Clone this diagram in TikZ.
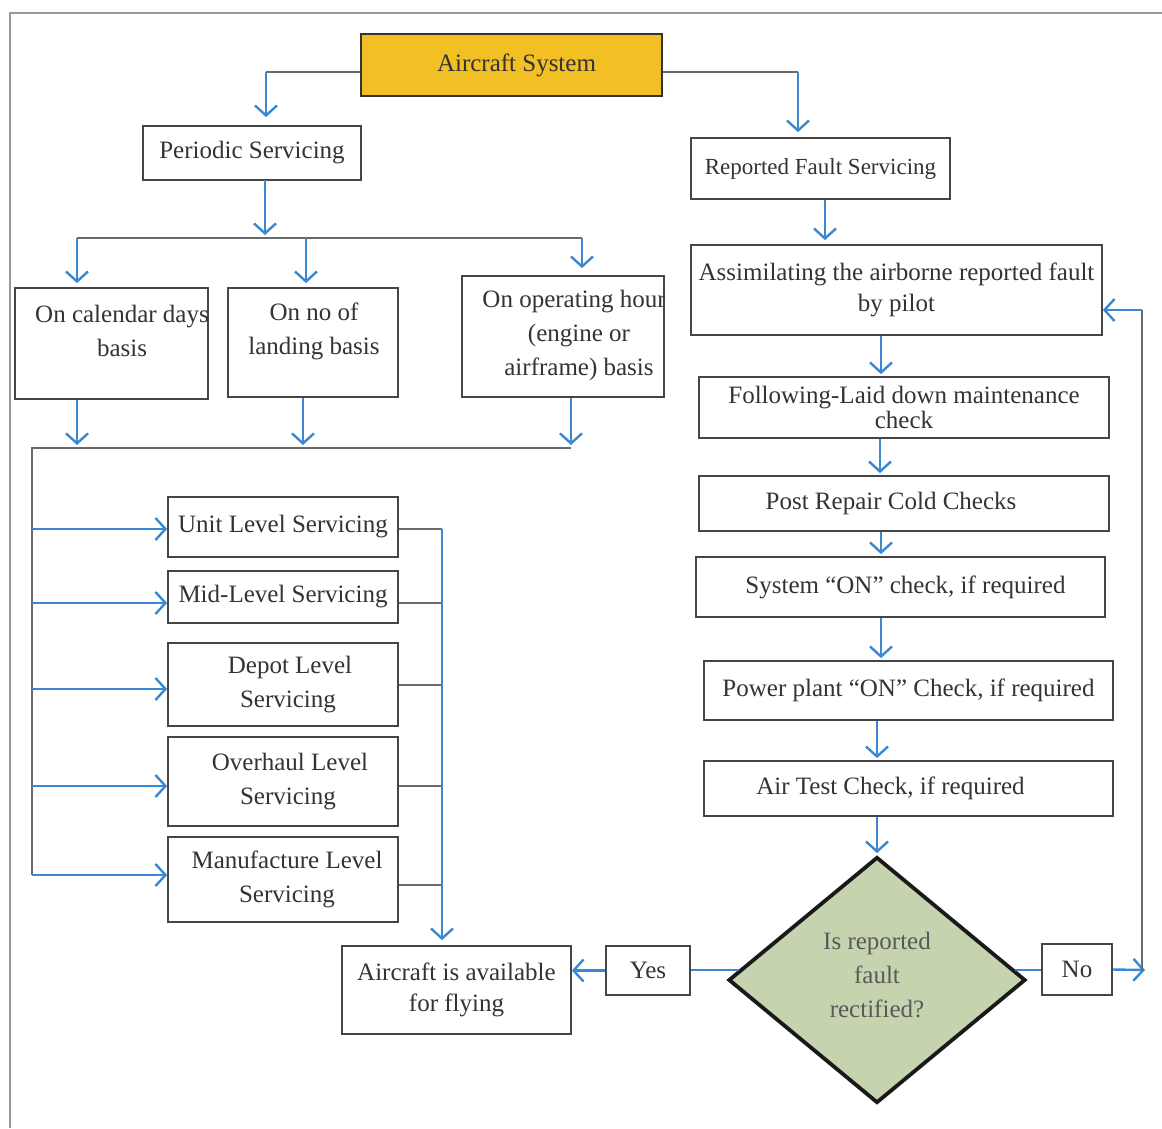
\documentclass[tikz,border=0pt]{standalone}
\usepackage{fontspec}
\setmainfont{Liberation Serif}
\usetikzlibrary{shapes.geometric,arrows.meta,calc}
\definecolor{arrblue}{HTML}{3B87D1}
\definecolor{lgray}{HTML}{6A6A6A}
\definecolor{bgray}{HTML}{454545}
\definecolor{txt}{HTML}{333333}
\definecolor{sysfill}{HTML}{F2BF24}
\definecolor{diafill}{HTML}{C5D3AE}
\tikzset{
  box/.style={draw=bgray, line width=1.8pt, fill=white, inner sep=0pt, align=center,
    text=txt, font=\fontsize{25}{34}\selectfont},
  lbl/.style={inner sep=0pt, align=center, text=txt, font=\fontsize{25}{34}\selectfont},
  barrow/.style={draw=arrblue, line width=2.4pt, -{Straight Barb[length=10pt,width=22pt,line width=2.4pt]}},
  bline/.style={draw=arrblue, line width=2.6pt},
  gline/.style={draw=lgray, line width=2.4pt},
}
\begin{document}
\begin{tikzpicture}[x=1pt,y=-1pt]
\useasboundingbox (0,0) rectangle (1162,1128);
\fill[white] (0,0) rectangle (1162,1128);
\draw[draw=gray!80, line width=2pt] (10,1128) -- (10,13) -- (1162,13);

% top
\node[box, fill=sysfill, draw=black!80, line width=2.6pt, minimum width=301pt, minimum height=62pt] (sys) at (511.5,65) {\hspace*{10pt}Aircraft System};
\node[box, minimum width=218pt, minimum height=54pt] (per) at (252,153) {Periodic Servicing};
\node[box, minimum width=259pt, minimum height=61pt, font=\fontsize{23}{30}\selectfont] (rep) at (820.5,168.5) {Reported Fault Servicing};

% periodic basis boxes
\node[box, minimum width=193pt, minimum height=111pt] (cal) at (111.5,343.5) {};
\node[box, minimum width=170pt, minimum height=109pt] (land) at (313,342.5) {};
\node[box, minimum width=202pt, minimum height=121pt] (op) at (563,336.5) {};
\begin{scope}
  \clip (cal.south west) rectangle (cal.north east);
  \node[lbl] (calT) at (122,331) {On calendar days\\basis};
\end{scope}
\node[lbl] (landT) at (314,331) {On no of\\landing basis};
\begin{scope}
  \clip (op.south west) rectangle (op.north east);
  \node[lbl] (opT) at (579,335) {On operating hours\\(engine or\\airframe) basis};
\end{scope}

% level boxes
\node[box, minimum width=230pt, minimum height=60pt] (unit) at (283,527) {Unit Level Servicing};
\node[box, minimum width=230pt, minimum height=52pt] (mid) at (283,597) {Mid-Level Servicing};
\node[box, minimum width=230pt, minimum height=83pt] (depot) at (283,684.5) {\hspace*{14pt}Depot Level\\\hspace*{10pt}Servicing};
\node[box, minimum width=230pt, minimum height=89pt] (over) at (283,781.5) {\hspace*{14pt}Overhaul Level\\\hspace*{10pt}Servicing};
\node[box, minimum width=230pt, minimum height=85pt] (manu) at (283,879.5) {\hspace*{8pt}Manufacture Level\\\hspace*{8pt}Servicing};
\node[box, minimum width=229pt, minimum height=88pt, font=\fontsize{25}{31}\selectfont] (avail) at (456.5,990) {Aircraft is available\\for flying};
\node[box, minimum width=84pt, minimum height=49pt] (yes) at (648,970.5) {Yes};

% right column
\node[box, minimum width=411pt, minimum height=90pt, font=\fontsize{25}{31}\selectfont] (ass) at (896.5,290) {Assimilating the airborne reported fault\\by pilot};
\node[box, minimum width=410pt, minimum height=61pt, font=\fontsize{25}{25}\selectfont] (fol) at (904,407.5) {Following-Laid down maintenance\\check};
\node[box, minimum width=410pt, minimum height=55pt] (post) at (904,503.5) {Post Repair Cold Checks\hspace*{26pt}};
\node[box, minimum width=409pt, minimum height=60pt] (son) at (900.5,587) {\hspace*{10pt}System ``ON'' check, if required};
\node[box, minimum width=409pt, minimum height=59pt] (pow) at (908.5,690.5) {Power plant ``ON'' Check, if required};
\node[box, minimum width=409pt, minimum height=55pt] (air) at (908.5,788.5) {Air Test Check, if required\hspace*{36pt}};
\node[diamond, draw=black!90, line width=3.8pt, fill=diafill, inner sep=0pt, minimum width=297pt, minimum height=246pt] (dia) at (877,980) {};
\node[lbl, text=black!65] (diaT) at (877,975) {Is reported\\fault\\rectified?};
\node[box, minimum width=70pt, minimum height=51pt] (no) at (1077,969.5) {No};

% helper coordinates
\coordinate (c1) at (266,72);
\coordinate (c2) at (798,72);
\coordinate (p0) at (265,180);
\coordinate (b1) at (265,238);
\coordinate (bl) at (77,238);
\coordinate (bm) at (306,238);
\coordinate (br) at (582,238);
\coordinate (d1) at (77,448);
\coordinate (d2) at (303,448);
\coordinate (d3) at (571,448);
\coordinate (v0) at (32,448);
\coordinate (v1) at (32,875);
\coordinate (h1) at (32,529);
\coordinate (h2) at (32,603);
\coordinate (h3) at (32,689);
\coordinate (h4) at (32,786);
\coordinate (k0) at (442,529);
\coordinate (k2) at (442,603);
\coordinate (k3) at (442,685);
\coordinate (k4) at (442,786);
\coordinate (k5) at (442,885);
\coordinate (x1) at (825,0);
\coordinate (x2) at (881,0);
\coordinate (x3) at (880,0);
\coordinate (x4) at (877,0);
\coordinate (r1) at (1145,970);
\coordinate (r2) at (1142,970);
\coordinate (r3) at (1142,310);
\coordinate (dl) at ($(dia.west)!0.08!(dia.north)$);
\coordinate (dr) at ($(dia.east)!0.08!(dia.north)$);

% connectors: top
\draw[gline] ([yshift=-7pt]sys.west) -- (c1);
\draw[barrow, shorten >=8pt] (c1) -- (c1 |- per.north);
\draw[gline] ([yshift=-7pt]sys.east) -- (c2);
\draw[barrow, shorten >=5pt] (c2) -- (c2 |- rep.north);

% periodic bus
\draw[barrow, shorten >=3pt] (p0) -- (b1);
\draw[gline] (bl) -- (br);
\draw[barrow, shorten >=4pt] (bl) -- (bl |- cal.north);
\draw[barrow, shorten >=4pt] (bm) -- (bm |- land.north);
\draw[barrow, shorten >=7pt] (br) -- (br |- op.north);

% second bus
\draw[barrow, shorten >=3pt] (d1 |- cal.south) -- (d1);
\draw[barrow, shorten >=3pt] (d2 |- land.south) -- (d2);
\draw[barrow, shorten >=3pt] (d3 |- op.south) -- (d3);
\draw[gline] (d3) -- (v0) -- (v1);
\draw[barrow] (h1) -- (unit.west |- h1);
\draw[barrow] (h2) -- (mid.west |- h2);
\draw[barrow] (h3) -- (depot.west |- h3);
\draw[barrow] (h4) -- (over.west |- h4);
\draw[barrow] (v1) -- (manu.west |- v1);

% collector to avail
\draw[gline] (unit.east |- k0) -- (k0);
\draw[gline] (mid.east |- k2) -- (k2);
\draw[gline] (depot.east |- k3) -- (k3);
\draw[gline] (over.east |- k4) -- (k4);
\draw[gline] (manu.east |- k5) -- (k5);
\draw[barrow, shorten >=5pt] (k0) -- (k0 |- avail.north);

% right column arrows
\draw[barrow, shorten >=4pt] (x1 |- rep.south) -- (x1 |- ass.north);
\draw[barrow, shorten >=2pt] (x2 |- ass.south) -- (x2 |- fol.north);
\draw[barrow, shorten >=2pt] (x3 |- fol.south) -- (x3 |- post.north);
\draw[barrow, shorten >=2pt] (x2 |- post.south) -- (x2 |- son.north);
\draw[barrow, shorten >=2pt] (x2 |- son.south) -- (x2 |- pow.north);
\draw[barrow, shorten >=2pt] (x4 |- pow.south) -- (x4 |- air.north);
\draw[barrow, shorten >=2pt] (x4 |- air.south) -- (dia.north);

% decision
\draw[bline] (dl) -- (yes.east |- dl);
\draw[barrow] (yes.west) -- (yes.west -| avail.east);
\draw[bline] (dr) -- (no.west |- dr);
\draw[barrow] (no.east) -- (r1);
\draw[gline] (r2) -- (r3);
\draw[barrow] (r3) -- (r3 -| ass.east);
\end{tikzpicture}
\end{document}
